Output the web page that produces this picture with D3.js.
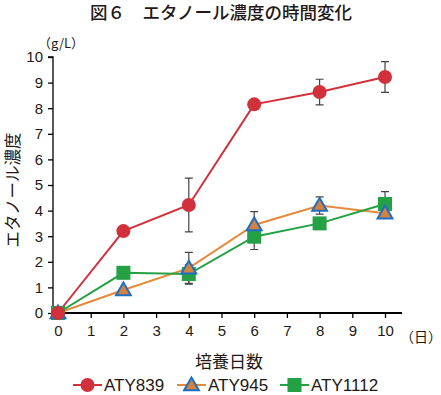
<!DOCTYPE html>
<html>
<head>
<meta charset="utf-8">
<script src="https://cdn.jsdelivr.net/npm/d3@7"></script>
<style>
  body { margin: 0; background: #fff; }
  svg { font-family: "Noto Sans CJK JP", "Noto Sans", sans-serif; }
</style>
</head>
<body>
<div id="content"></div>
<script>
// データ
const days = [0, 2, 4, 6, 8, 10];
const aty839 = [0, 3.2, 4.22, 8.15, 8.63, 9.22];
const aty839Err = [0, 0, 1.05, 0.05, 0.5, 0.6];
const aty945 = [0, 0.9, 1.75, 3.44, 4.2, 3.9];
const aty945Err = [0, 0, 0.62, 0.52, 0.34, 0.15];
const aty1112 = [0, 1.57, 1.52, 2.98, 3.5, 4.26];
const aty1112Err = [0, 0, 0.36, 0.5, 0.1, 0.48];
const xTicks = [0, 1, 2, 3, 4, 5, 6, 7, 8, 9, 10];
const yTicks = [0, 1, 2, 3, 4, 5, 6, 7, 8, 9, 10];

const width = 441;
const height = 395;

const xScale = d3.scaleLinear().domain([0, 10]).range([58, 385]);
const yScale = d3.scaleLinear().domain([0, 10]).range([313, 57]);

const svg = d3.select('#content')
  .append('svg')
  .attr('width', width)
  .attr('height', height);

const series = [
  { name: 'ATY839', values: aty839, err: aty839Err, line: '#d0313c', shape: 'circle' },
  { name: 'ATY945', values: aty945, err: aty945Err, line: '#e58a3a', shape: 'triangle' },
  { name: 'ATY1112', values: aty1112, err: aty1112Err, line: '#24a045', shape: 'square' }
];

// タイトル
svg.append('text')
  .attr('x', 221).attr('y', 19)
  .attr('text-anchor', 'middle')
  .style('font-size', '17.5px')
  .style('font-weight', 500)
  .attr('fill', '#231815')
  .text('図６　エタノール濃度の時間変化');

// 軸
const yAxis = d3.axisLeft(yScale).tickValues(yTicks).tickSize(5).tickFormat(d3.format('d'));
svg.append('g')
  .attr('transform', `translate(53, 0)`)
  .call(yAxis)
  .call(g => g.select('.domain').attr('d', `M-5,${yScale(10)}H0V${yScale(0)}`).attr('stroke-width', 1.3))
  .call(g => g.selectAll('.tick line').attr('stroke-width', 1.3))
  .call(g => g.selectAll('.tick text').attr('x', -10).style('font-size', '15px').style('font-family', 'Liberation Sans, sans-serif').attr('fill', '#231815'));

const xAxis = d3.axisBottom(xScale).tickValues(xTicks).tickSize(5).tickFormat(d3.format('d'));
svg.append('g')
  .attr('transform', `translate(0, ${yScale(0)})`)
  .call(xAxis)
  .call(g => g.select('.domain').attr('d', `M53,0H402`).attr('stroke-width', 2))
  .call(g => g.selectAll('.tick line').attr('stroke-width', 1.3))
  .call(g => g.selectAll('.tick text').attr('y', 12).style('font-size', '15px').style('font-family', 'Liberation Sans, sans-serif').attr('fill', '#231815'));

svg.append('text')
  .attr('x', 421).attr('y', 342)
  .attr('text-anchor', 'middle')
  .style('font-size', '14px')
  .attr('fill', '#231815')
  .text('（日）');

svg.append('text')
  .attr('x', 61).attr('y', 48)
  .attr('text-anchor', 'middle')
  .style('font-size', '13px')
  .attr('fill', '#231815')
  .text('（g/L）');

svg.append('text')
  .attr('transform', 'translate(19, 190) rotate(-90)')
  .attr('text-anchor', 'middle')
  .style('font-size', '16.5px')
  .attr('fill', '#231815')
  .text('エタノール濃度');

svg.append('text')
  .attr('x', 229).attr('y', 368)
  .attr('text-anchor', 'middle')
  .style('font-size', '17px')
  .attr('fill', '#231815')
  .text('培養日数');

// マーカー
const drawMarker = (g, shape, color) => {
  if (shape === 'circle') {
    g.append('circle').attr('r', 7).attr('fill', color);
  } else if (shape === 'square') {
    g.append('rect').attr('x', -7).attr('y', -7).attr('width', 14).attr('height', 14).attr('fill', color);
  } else {
    g.append('path')
      .attr('d', d3.symbol().type(d3.symbolTriangle).size(95)())
      .attr('transform', 'translate(0,1)')
      .attr('fill', '#d4823f')
      .attr('stroke', '#1f6ec4')
      .attr('stroke-width', 2);
  }
};

// 誤差範囲
series.forEach(s => {
  const eg = svg.append('g');
  days.forEach((d, i) => {
    if (s.err[i] <= 0) return;
    const x = xScale(d);
    const y1 = yScale(s.values[i] + s.err[i]);
    const y2 = yScale(s.values[i] - s.err[i]);
    eg.append('path')
      .attr('d', `M${x},${y1}V${y2}M${x - 4},${y1}H${x + 4}M${x - 4},${y2}H${x + 4}`)
      .attr('stroke', '#444')
      .attr('stroke-width', 1.2)
      .attr('fill', 'none');
  });
});

// 折れ線
const line = d3.line().x((d, i) => xScale(days[i])).y(d => yScale(d));
series.forEach(s => {
  svg.append('path')
    .datum(s.values)
    .attr('d', line)
    .attr('fill', 'none')
    .attr('stroke', s.line)
    .attr('stroke-width', 2);
});

[...series].reverse().forEach(s => {
  s.values.forEach((v, i) => {
    const g = svg.append('g').attr('transform', `translate(${xScale(days[i])},${yScale(v)})`);
    drawMarker(g, s.shape, s.line);
  });
});

// 凡例
const legendX = [73, 177, 280];
series.forEach((s, i) => {
  const lg = svg.append('g').attr('transform', `translate(${legendX[i]}, 385)`);
  lg.append('line').attr('x1', 0).attr('x2', 29).attr('stroke', s.line).attr('stroke-width', 2);
  drawMarker(lg.append('g').attr('transform', 'translate(14.5,0)'), s.shape, s.line);
  lg.append('text')
    .attr('x', 31).attr('y', 6)
    .style('font-size', '17px')
    .style('font-family', 'Liberation Sans, sans-serif')
    .attr('fill', '#231815')
    .text(s.name);
});
</script>
</body>
</html>
